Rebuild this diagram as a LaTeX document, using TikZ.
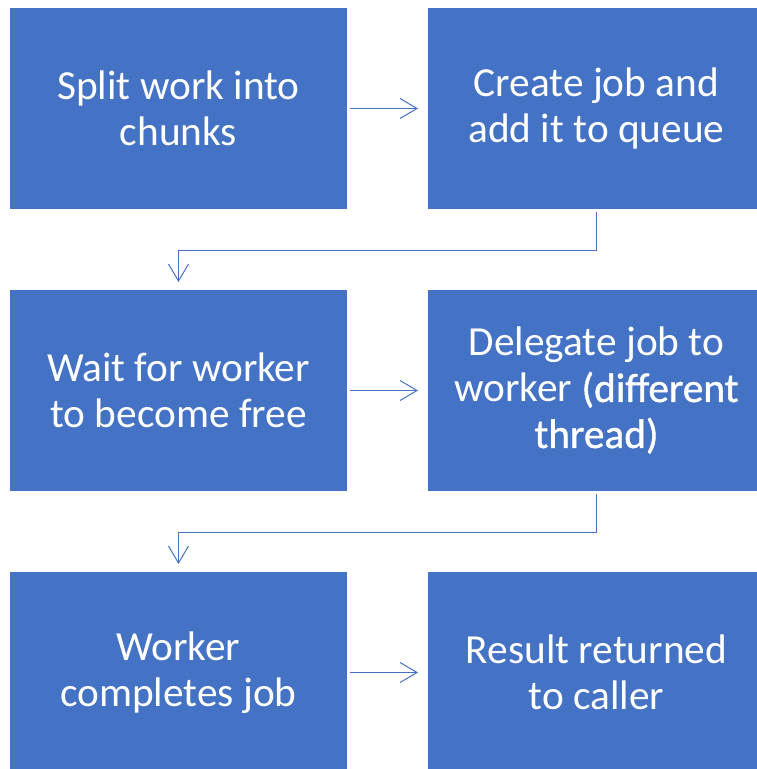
\documentclass[tikz,border=0pt]{standalone}
\usepackage{fontspec}
\setmainfont{Carlito}
\usepackage{tikz}
\usetikzlibrary{arrows.meta,positioning}
\definecolor{StepBlue}{HTML}{4472C4}

\begin{document}
\begin{tikzpicture}[
  node distance=60.75pt,
  stepbox/.style={fill=StepBlue,text=white,minimum width=252.75pt,minimum height=150.75pt,
    inner sep=0pt,outer sep=0pt,align=center,font=\fontsize{31}{34.5}\selectfont},
  arrow/.style={-{Straight Barb[length=12.75pt,width=15pt]},StepBlue,line width=0.75pt}
]
  \useasboundingbox (0,0) rectangle (567.75pt,-576.75pt);
  \clip (0,0) rectangle (567.75pt,-576.75pt);

  \node[stepbox] (split) at (133.875pt,-81.375pt) {Split work into\\chunks};
  \node[stepbox, right=of split] (create) {Create job and\\add it to queue};
  \node[stepbox, below=of split] (wait) {Wait for worker\\to become free};
  \node[stepbox, right=of wait] (delegate) {Delegate job to\\worker {\addfontfeature{FakeBold=1}(different}\\{\addfontfeature{FakeBold=1}thread)}};
  \node[stepbox, below=of wait] (complete) {Worker\\completes job};
  \node[stepbox, right=of complete] (result) {Result returned\\to caller};

  \draw[arrow, shorten <=2.25pt, shorten >=7.5pt] (split) -- (create);
  \draw[arrow, shorten <=2.25pt, shorten >=7.5pt] (wait) -- (delegate);
  \draw[arrow, shorten <=2.25pt, shorten >=7.5pt] (complete) -- (result);

  % row to row: down, back left, down again
  \draw[arrow, shorten <=2.25pt, shorten >=6pt] (create.south) -- ++(0,-30.75pt) -| (wait.north);
  \draw[arrow, shorten <=2.25pt, shorten >=6pt] (delegate.south) -- ++(0,-30.75pt) -| (complete.north);
\end{tikzpicture}
\end{document}
